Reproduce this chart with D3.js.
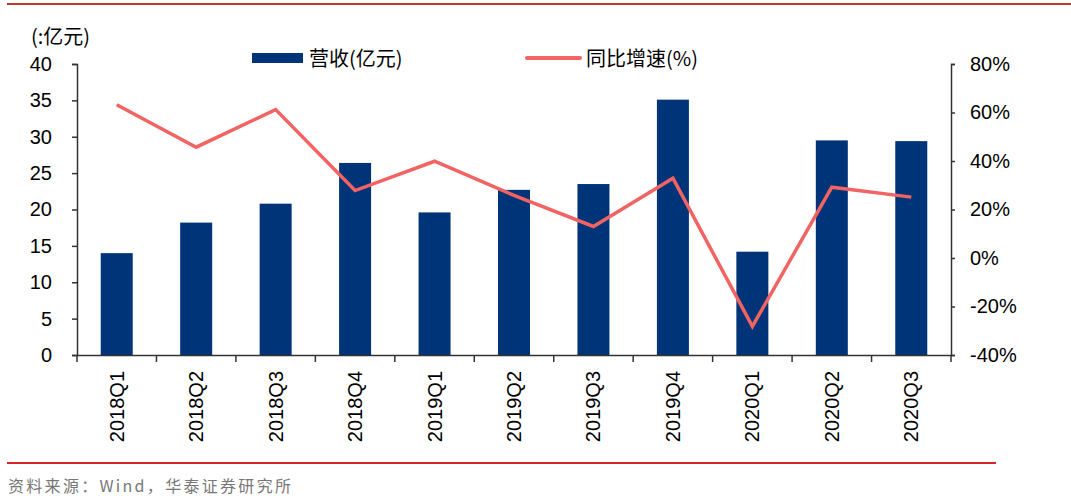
<!DOCTYPE html>
<html lang="zh">
<head>
<meta charset="UTF-8">
<title>营收与同比增速</title>
<style>
  body { margin: 0; background: #fff; }
  svg text { font-family: "Liberation Sans", Arial, sans-serif; }
  .cn { font-family: "Noto Sans CJK SC", sans-serif; }
</style>
</head>
<body>
<script src="https://cdn.jsdelivr.net/npm/d3@7"></script>
<script>
// data
var quarters = ["2018Q1", "2018Q2", "2018Q3", "2018Q4", "2019Q1", "2019Q2", "2019Q3", "2019Q4", "2020Q1", "2020Q2", "2020Q3"];
var revenue = [14.0, 18.2, 20.8, 26.4, 19.6, 22.7, 23.5, 35.1, 14.2, 29.5, 29.4];
var growth = [63.2, 45.7, 61.2, 27.8, 39.9, 25.8, 13.0, 32.9, -28.2, 29.2, 25.1];
var leftTicks = [0, 5, 10, 15, 20, 25, 30, 35, 40];
var rightTicks = [-40, -20, 0, 20, 40, 60, 80];

var w = 1071, h = 499;
var plotL = 77, plotR = 951, plotT = 64, plotB = 355;
var numSize = 20;

var svg = d3.select("body").append("svg")
    .attr("width", w)
    .attr("height", h);

var xc = d3.scaleBand().domain(quarters).range([plotL, plotR]);
var yL = d3.scaleLinear().domain([0, 40]).range([plotB, plotT]);
var yR = d3.scaleLinear().domain([-40, 80]).range([plotB, plotT]);

// frame lines
svg.append("line").attr("x1", 7).attr("x2", w).attr("y1", 4).attr("y2", 4)
    .attr("stroke", "#c0392b").attr("stroke-width", 2);
svg.append("line").attr("x1", 7).attr("x2", 996).attr("y1", 463).attr("y2", 463)
    .attr("stroke", "#d9252a").attr("stroke-width", 2);

// bars
svg.selectAll("rect.bar")
    .data(revenue)
    .enter()
    .append("rect")
    .attr("class", "bar")
    .attr("x", function(d, i) { return xc(quarters[i]) + xc.bandwidth() / 2 - 16; })
    .attr("y", function(d) { return yL(d); })
    .attr("width", 32)
    .attr("height", function(d) { return plotB - yL(d); })
    .attr("fill", "#003478");

// growth line
var line = d3.line()
    .x(function(d, i) { return xc(quarters[i]) + xc.bandwidth() / 2; })
    .y(function(d) { return yR(d); });
svg.append("path")
    .datum(growth)
    .attr("d", line)
    .attr("fill", "none")
    .attr("stroke", "#f26363")
    .attr("stroke-width", 3.5)
    .attr("stroke-linejoin", "miter");

// left axis
var gl = svg.append("g")
    .attr("transform", "translate(" + plotL + ",0)")
    .call(d3.axisLeft(yL).tickValues(leftTicks).tickSize(5).tickPadding(20).tickSizeOuter(5));
gl.selectAll("text").attr("font-size", numSize).attr("fill", "#000")
    .style("font-family", "Liberation Sans, Arial, sans-serif");

// right axis
var gr = svg.append("g")
    .attr("transform", "translate(" + plotR + ",0)")
    .call(d3.axisRight(yR).tickValues(rightTicks).tickSize(4).tickPadding(15)
        .tickFormat(function(d) { return d + "%"; }).tickSizeOuter(4));
gr.selectAll("text").attr("font-size", numSize).attr("fill", "#000")
    .style("font-family", "Liberation Sans, Arial, sans-serif");

// bottom axis
var gb = svg.append("g")
    .attr("transform", "translate(0," + plotB + ")")
    .call(d3.axisBottom(xc).tickSize(0).tickSizeOuter(0).tickFormat(""));
// category boundary ticks
gb.selectAll("line.sep")
    .data(quarters.concat(["end"]))
    .enter()
    .append("line")
    .attr("class", "sep")
    .attr("x1", function(d, i) { return plotL + i * xc.bandwidth(); })
    .attr("x2", function(d, i) { return plotL + i * xc.bandwidth(); })
    .attr("y1", 0).attr("y2", 7)
    .attr("stroke", "#333").attr("stroke-width", 1.5);
svg.selectAll("text.xl")
    .data(quarters)
    .enter()
    .append("text")
    .attr("class", "xl")
    .attr("transform", function(d) {
        return "translate(" + (xc(d) + xc.bandwidth() / 2 + 7) + ",371) rotate(-90)";
    })
    .attr("text-anchor", "end")
    .attr("font-size", numSize)
    .attr("fill", "#000")
    .text(function(d) { return d; });

svg.selectAll(".domain").attr("stroke", "#333").attr("stroke-width", 1.5);
svg.selectAll(".tick line").attr("stroke", "#333").attr("stroke-width", 1.5);

// unit label
svg.append("text").attr("class", "cn").attr("x", 31).attr("y", 44)
    .attr("font-size", 20).attr("fill", "#000").text("(:亿元)");

// legend
svg.append("rect").attr("x", 252).attr("y", 53).attr("width", 51).attr("height", 10).attr("fill", "#003478");
svg.append("text").attr("class", "cn").attr("x", 309).attr("y", 66)
    .attr("font-size", 20).attr("fill", "#000").text("营收(亿元)");
svg.append("line").attr("x1", 527).attr("x2", 580).attr("y1", 58).attr("y2", 58)
    .attr("stroke", "#f26363").attr("stroke-width", 4).attr("stroke-linecap", "round");
svg.append("text").attr("class", "cn").attr("x", 586).attr("y", 66)
    .attr("font-size", 20).attr("fill", "#000").text("同比增速(%)");

// source
svg.append("text").attr("class", "cn").attr("x", 8).attr("y", 492)
    .attr("font-size", 16).attr("fill", "#777").attr("letter-spacing", 2.3)
    .text("资料来源：Wind，华泰证券研究所");
</script>
</body>
</html>
